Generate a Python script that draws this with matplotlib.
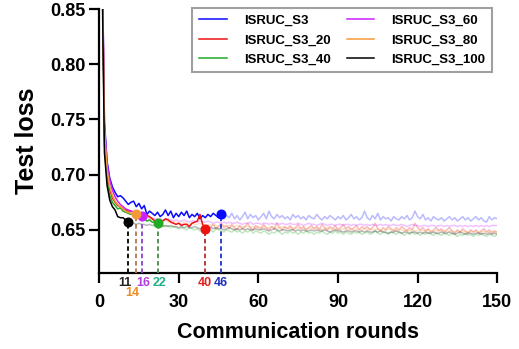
import numpy as np
import matplotlib
matplotlib.use("Agg")
import matplotlib.pyplot as plt

plt.rcParams['font.family'] = ['Liberation Sans', 'DejaVu Sans']
plt.rcParams['font.weight'] = 'bold'

rounds = list(range(1, 151))

s3 = [0.930, 0.748, 0.712, 0.697, 0.689, 0.684, 0.680, 0.681, 0.679, 0.676,
      0.673, 0.675, 0.676, 0.671, 0.674, 0.669, 0.672, 0.664, 0.667, 0.665,
      0.663, 0.666, 0.662, 0.664, 0.668, 0.663, 0.667, 0.661, 0.665, 0.662,
      0.666, 0.663, 0.667, 0.661, 0.664, 0.662, 0.665, 0.660, 0.663, 0.661,
      0.664, 0.662, 0.665, 0.663, 0.661, 0.664, 0.660, 0.663, 0.661, 0.665,
      0.660, 0.663, 0.659, 0.662, 0.666, 0.660, 0.664, 0.661, 0.663, 0.659,
      0.662, 0.665, 0.660, 0.667, 0.662, 0.660, 0.664, 0.661, 0.663, 0.660,
      0.662, 0.659, 0.664, 0.661, 0.663, 0.660, 0.662, 0.659, 0.663, 0.661,
      0.660, 0.664, 0.661, 0.659, 0.662, 0.660, 0.663, 0.661, 0.659, 0.662,
      0.660, 0.663, 0.659, 0.661, 0.664, 0.660, 0.662, 0.659, 0.661, 0.667,
      0.661, 0.659, 0.663, 0.660, 0.665, 0.659, 0.662, 0.660, 0.661, 0.658,
      0.662, 0.660, 0.659, 0.662, 0.660, 0.663, 0.659, 0.661, 0.667, 0.662,
      0.660, 0.664, 0.659, 0.661, 0.658, 0.662, 0.660, 0.659, 0.661, 0.658,
      0.660, 0.662, 0.659, 0.661, 0.658, 0.660, 0.662, 0.659, 0.661, 0.658,
      0.660, 0.662, 0.659, 0.661, 0.658, 0.657, 0.662, 0.659, 0.661, 0.660]

s3_20 = [0.925, 0.735, 0.700, 0.686, 0.679, 0.675, 0.672, 0.671, 0.669, 0.668,
         0.667, 0.667, 0.666, 0.665, 0.664, 0.664, 0.663, 0.663, 0.662, 0.660,
         0.658, 0.657, 0.656, 0.658, 0.660, 0.659, 0.657, 0.656, 0.655, 0.656,
         0.654, 0.655, 0.655, 0.653, 0.656, 0.657, 0.658, 0.664, 0.655, 0.651,
         0.654, 0.652, 0.655, 0.651, 0.653, 0.656, 0.652, 0.654, 0.651, 0.655,
         0.652, 0.650, 0.654, 0.651, 0.653, 0.656, 0.652, 0.650, 0.654, 0.652,
         0.651, 0.655, 0.652, 0.650, 0.653, 0.651, 0.656, 0.652, 0.650, 0.653,
         0.651, 0.654, 0.650, 0.652, 0.655, 0.651, 0.653, 0.650, 0.652, 0.654,
         0.651, 0.653, 0.650, 0.655, 0.652, 0.650, 0.653, 0.651, 0.654, 0.650,
         0.652, 0.655, 0.651, 0.653, 0.650, 0.652, 0.654, 0.650, 0.653, 0.651,
         0.653, 0.650, 0.652, 0.656, 0.651, 0.649, 0.652, 0.650, 0.653, 0.651,
         0.649, 0.652, 0.650, 0.653, 0.651, 0.649, 0.652, 0.650, 0.656, 0.652,
         0.650, 0.652, 0.649, 0.651, 0.648, 0.650, 0.652, 0.649, 0.651, 0.648,
         0.650, 0.652, 0.649, 0.647, 0.650, 0.648, 0.651, 0.649, 0.647, 0.650,
         0.648, 0.650, 0.647, 0.649, 0.651, 0.648, 0.650, 0.647, 0.649, 0.648]

s3_40 = [0.915, 0.728, 0.694, 0.681, 0.675, 0.672, 0.669, 0.670, 0.667, 0.666,
         0.665, 0.664, 0.665, 0.663, 0.662, 0.661, 0.660, 0.658, 0.659, 0.657,
         0.657, 0.656, 0.655, 0.654, 0.653, 0.654, 0.652, 0.653, 0.652, 0.651,
         0.652, 0.651, 0.650, 0.652, 0.651, 0.650, 0.651, 0.649, 0.650, 0.651,
         0.649, 0.650, 0.648, 0.651, 0.650, 0.649, 0.648, 0.650, 0.649, 0.648,
         0.650, 0.648, 0.649, 0.647, 0.649, 0.648, 0.650, 0.647, 0.649, 0.648,
         0.647, 0.649, 0.648, 0.646, 0.648, 0.647, 0.649, 0.648, 0.646, 0.648,
         0.647, 0.649, 0.647, 0.648, 0.646, 0.648, 0.647, 0.649, 0.647, 0.648,
         0.646, 0.648, 0.647, 0.649, 0.647, 0.646, 0.648, 0.647, 0.649, 0.647,
         0.648, 0.646, 0.648, 0.647, 0.646, 0.648, 0.647, 0.648, 0.646, 0.647,
         0.648, 0.646, 0.647, 0.649, 0.647, 0.646, 0.648, 0.647, 0.646, 0.648,
         0.647, 0.646, 0.648, 0.647, 0.645, 0.647, 0.646, 0.648, 0.646, 0.647,
         0.645, 0.647, 0.646, 0.648, 0.646, 0.645, 0.647, 0.646, 0.645, 0.647,
         0.646, 0.645, 0.647, 0.646, 0.644, 0.646, 0.645, 0.647, 0.645, 0.646,
         0.644, 0.646, 0.645, 0.647, 0.645, 0.644, 0.646, 0.645, 0.644, 0.646]

s3_60 = [0.928, 0.745, 0.710, 0.695, 0.686, 0.680, 0.676, 0.673, 0.671, 0.669,
         0.668, 0.667, 0.666, 0.665, 0.664, 0.663, 0.662, 0.662, 0.661, 0.661,
         0.660, 0.660, 0.660, 0.659, 0.659, 0.660, 0.659, 0.658, 0.659, 0.658,
         0.658, 0.659, 0.658, 0.657, 0.658, 0.658, 0.657, 0.658, 0.657, 0.657,
         0.658, 0.657, 0.656, 0.657, 0.657, 0.656, 0.657, 0.656, 0.657, 0.656,
         0.656, 0.657, 0.656, 0.655, 0.656, 0.656, 0.657, 0.655, 0.656, 0.656,
         0.655, 0.656, 0.656, 0.655, 0.656, 0.655, 0.656, 0.655, 0.656, 0.655,
         0.655, 0.656, 0.655, 0.655, 0.656, 0.655, 0.654, 0.655, 0.656, 0.655,
         0.655, 0.654, 0.655, 0.656, 0.655, 0.654, 0.655, 0.655, 0.654, 0.655,
         0.655, 0.654, 0.655, 0.655, 0.654, 0.655, 0.654, 0.655, 0.655, 0.654,
         0.655, 0.654, 0.655, 0.654, 0.654, 0.655, 0.654, 0.655, 0.654, 0.654,
         0.655, 0.654, 0.654, 0.655, 0.654, 0.653, 0.654, 0.655, 0.654, 0.654,
         0.653, 0.654, 0.654, 0.653, 0.654, 0.654, 0.653, 0.654, 0.654, 0.653,
         0.654, 0.653, 0.654, 0.654, 0.653, 0.654, 0.653, 0.654, 0.653, 0.654,
         0.653, 0.654, 0.653, 0.654, 0.653, 0.654, 0.653, 0.654, 0.654, 0.654]

s3_80 = [0.926, 0.740, 0.704, 0.689, 0.681, 0.676, 0.673, 0.671, 0.669, 0.667,
         0.666, 0.665, 0.664, 0.664, 0.663, 0.662, 0.661, 0.661, 0.660, 0.660,
         0.659, 0.659, 0.658, 0.659, 0.658, 0.657, 0.658, 0.657, 0.657, 0.656,
         0.656, 0.657, 0.656, 0.655, 0.656, 0.655, 0.655, 0.656, 0.655, 0.654,
         0.655, 0.654, 0.655, 0.654, 0.653, 0.654, 0.654, 0.653, 0.654, 0.653,
         0.653, 0.654, 0.653, 0.652, 0.653, 0.653, 0.652, 0.653, 0.652, 0.653,
         0.652, 0.653, 0.652, 0.652, 0.653, 0.652, 0.651, 0.652, 0.653, 0.652,
         0.651, 0.652, 0.652, 0.651, 0.652, 0.651, 0.652, 0.651, 0.651, 0.652,
         0.651, 0.652, 0.651, 0.650, 0.651, 0.652, 0.651, 0.650, 0.651, 0.651,
         0.650, 0.651, 0.651, 0.650, 0.651, 0.650, 0.651, 0.650, 0.650, 0.651,
         0.650, 0.651, 0.650, 0.650, 0.651, 0.650, 0.649, 0.650, 0.651, 0.650,
         0.650, 0.649, 0.650, 0.650, 0.649, 0.650, 0.649, 0.650, 0.649, 0.649,
         0.650, 0.649, 0.649, 0.650, 0.649, 0.648, 0.649, 0.650, 0.649, 0.649,
         0.648, 0.649, 0.649, 0.648, 0.649, 0.648, 0.649, 0.648, 0.648, 0.649,
         0.648, 0.649, 0.648, 0.648, 0.649, 0.648, 0.648, 0.649, 0.648, 0.648]

s3_100 = [0.905, 0.720, 0.690, 0.677, 0.671, 0.668, 0.662, 0.661, 0.661, 0.659,
          0.657, 0.656, 0.656, 0.655, 0.656, 0.655, 0.655, 0.654, 0.655, 0.654,
          0.654, 0.655, 0.654, 0.653, 0.654, 0.653, 0.654, 0.653, 0.653, 0.652,
          0.653, 0.652, 0.653, 0.652, 0.652, 0.653, 0.652, 0.651, 0.652, 0.652,
          0.651, 0.652, 0.651, 0.652, 0.651, 0.651, 0.650, 0.651, 0.652, 0.651,
          0.650, 0.651, 0.650, 0.651, 0.650, 0.651, 0.650, 0.650, 0.651, 0.650,
          0.650, 0.651, 0.650, 0.649, 0.650, 0.651, 0.650, 0.649, 0.650, 0.650,
          0.649, 0.650, 0.650, 0.649, 0.650, 0.649, 0.650, 0.649, 0.649, 0.650,
          0.649, 0.650, 0.649, 0.649, 0.650, 0.649, 0.648, 0.649, 0.650, 0.649,
          0.649, 0.648, 0.649, 0.649, 0.648, 0.649, 0.649, 0.648, 0.649, 0.648,
          0.649, 0.648, 0.648, 0.649, 0.648, 0.649, 0.648, 0.648, 0.647, 0.648,
          0.648, 0.649, 0.648, 0.647, 0.648, 0.648, 0.647, 0.648, 0.648, 0.647,
          0.648, 0.647, 0.648, 0.647, 0.647, 0.648, 0.647, 0.647, 0.648, 0.647,
          0.647, 0.648, 0.647, 0.646, 0.647, 0.648, 0.647, 0.646, 0.647, 0.647,
          0.646, 0.647, 0.647, 0.646, 0.647, 0.646, 0.647, 0.646, 0.647, 0.646]

names = ['ISRUC_S3', 'ISRUC_S3_20', 'ISRUC_S3_40',
         'ISRUC_S3_60', 'ISRUC_S3_80', 'ISRUC_S3_100']
series = [s3, s3_20, s3_40, s3_60, s3_80, s3_100]
best_rounds = [46, 40, 22, 16, 14, 11]

colors = ['#0a0aff', '#ee1111', '#22aa22', '#cc22ff', '#f59a3c', '#000000']
dash_colors = ['#2233cc', '#b03030', '#4a8a4a', '#8844cc', '#b07850', '#000000']
label_colors = ['#2030c0', '#e02020', '#20b08a', '#b040e0', '#f08a24', '#222222']
# label offsets (points) so numbers do not collide
label_dx = [0, 0, 1.2, 1.2, -2.9, -2.3]
label_dy = [-7, -7, -7, -7, -14.6, -7]

fig = plt.figure(figsize=(5.19, 3.49), dpi=100)
ax = fig.add_axes([0.191, 0.218, 0.767, 0.756])
ymin = 0.611

x = np.array(rounds)
for vals, c, b in zip(series, colors, best_rounds):
    y = np.array(vals)
    ax.plot(x[b - 1:], y[b - 1:], color=c, alpha=0.28, lw=1.1, zorder=1)

handles = []
for vals, c, b, name in zip(series, colors, best_rounds, names):
    y = np.array(vals)
    h, = ax.plot(x[:b], y[:b], color=c, lw=1.1, zorder=3, label=name)
    handles.append(h)

for vals, c, dc, lc, b, dx, dy in zip(series, colors, dash_colors, label_colors,
                                       best_rounds, label_dx, label_dy):
    yb = vals[b - 1]
    ax.plot([b, b], [ymin, yb], color=dc, lw=1.3, ls=(0, (2.5, 1.6)), zorder=4,
            clip_on=False)
    ax.plot(b, yb, 'o', color=c, ms=6.2, zorder=6)
    ax.annotate(str(b), xy=(b, 0), xycoords=('data', 'axes fraction'),
                xytext=(dx, dy), textcoords='offset points',
                ha='center', va='center', fontsize=9, fontweight='bold',
                color=lc, annotation_clip=False)

ax.set_xlim(0, 150)
ax.set_ylim(ymin, 0.85)
ax.set_xticks([0, 30, 60, 90, 120, 150])
ax.set_yticks([0.65, 0.70, 0.75, 0.80, 0.85])
ax.set_yticklabels(['0.65', '0.70', '0.75', '0.80', '0.85'])

for s in ['top', 'right']:
    ax.spines[s].set_visible(False)
for s in ['left', 'bottom']:
    ax.spines[s].set_linewidth(1.6)
ax.tick_params(axis='both', direction='out', length=7, width=1.6, labelsize=13)
ax.tick_params(axis='x', pad=8)
ax.tick_params(axis='y', pad=2.5)

ax.set_xlabel('Communication rounds', fontsize=15.5, fontweight='bold', labelpad=8)
ax.set_ylabel('Test loss', fontsize=18, fontweight='bold', labelpad=8)

leg = ax.legend(handles, names, ncol=2, loc='upper right',
                bbox_to_anchor=(492 / 519, 1 - 8 / 349),
                bbox_transform=fig.transFigure, borderaxespad=0,
                fancybox=False, framealpha=1, edgecolor='#a0a0a0',
                prop={'size': 9.5, 'weight': 'bold'},
                handlelength=2.1, handletextpad=1.3, columnspacing=1.2,
                labelspacing=0.55, borderpad=0.5)
leg.get_frame().set_linewidth(1.5)

plt.savefig('out.png', dpi=100)
